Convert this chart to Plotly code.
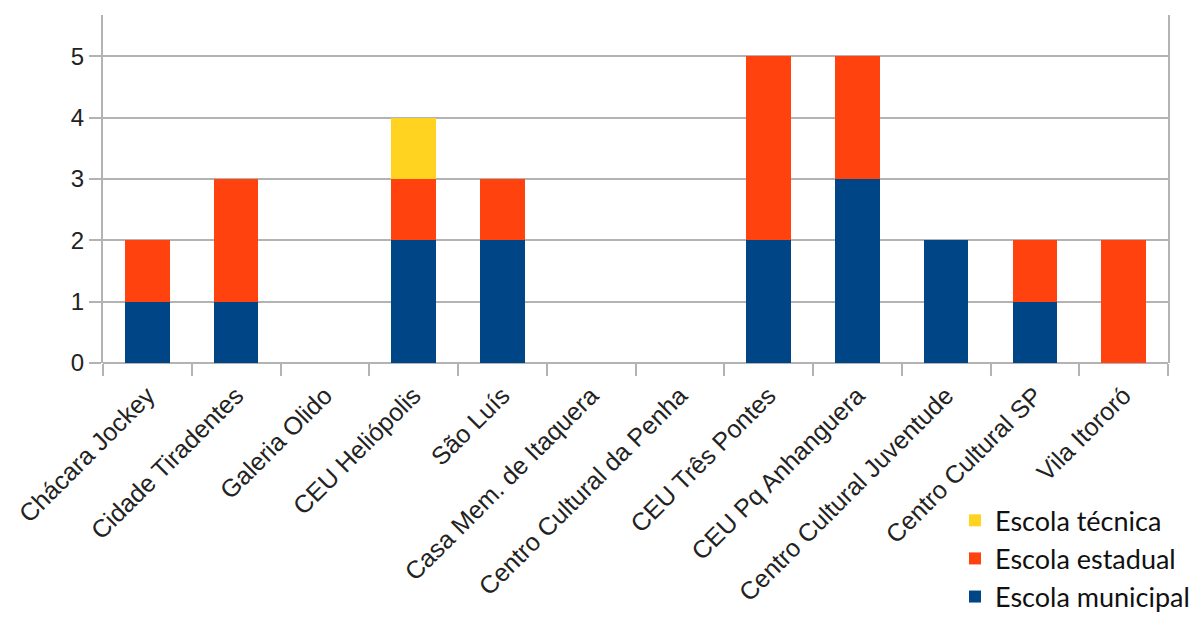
import plotly.graph_objects as go

categories = ["Chácara Jockey", "Cidade Tiradentes", "Galeria Olido", "CEU Heliópolis",
              "São Luís", "Casa Mem. de Itaquera", "Centro Cultural da Penha",
              "CEU Três Pontes", "CEU Pq Anhanguera", "Centro Cultural Juventude",
              "Centro Cultural SP", "Vila Itororó"]
municipal = [1, 1, 0, 2, 2, 0, 0, 2, 3, 2, 1, 0]
estadual = [1, 2, 0, 1, 1, 0, 0, 3, 2, 0, 1, 2]
tecnica = [0, 0, 0, 1, 0, 0, 0, 0, 0, 0, 0, 0]
series_names = ["Escola municipal", "Escola estadual", "Escola técnica"]
colors = ["#004586", "#ff420e", "#ffd320"]

fig = go.Figure()
for i, (name, vals, col) in enumerate(zip(series_names, [municipal, estadual, tecnica], colors)):
    fig.add_trace(go.Bar(x=categories, y=vals, name=name, marker_color=col,
                         marker_line_width=0, legendgroup=f"g{i}"))

fig.update_layout(
    barmode="stack",
    bargap=0.5,
    width=1203, height=617,
    margin=dict(l=103, r=35, t=15, b=254, autoexpand=False),
    plot_bgcolor="white", paper_bgcolor="white",
    font=dict(family="Liberation Sans, Arial, sans-serif", size=22, color="#222222"),
    showlegend=True,
    legend=dict(traceorder="reversed", tracegroupgap=12,
                x=0.80, xanchor="left", y=-0.383, yanchor="top",
                font=dict(family="Lato, Open Sans, sans-serif", size=27, color="#111111"),
                bgcolor="rgba(0,0,0,0)"),
)
fig.update_xaxes(type="category", tickangle=-45, showgrid=False, automargin=False,
                 ticks="outside", tickson="boundaries", ticklen=12, tickcolor="#b3b3b3",
                 tickwidth=2, showline=False, ticklabelstandoff=12,
                 tickfont=dict(size=25))
fig.update_yaxes(range=[0, 5.67], dtick=1, showgrid=True, gridcolor="#b3b3b3", gridwidth=2,
                 zeroline=True, zerolinecolor="#b3b3b3", zerolinewidth=2, automargin=False,
                 showline=True, linecolor="#b3b3b3", linewidth=2, mirror=True,
                 ticks="outside", ticklen=12, tickcolor="#b3b3b3", tickwidth=2,
                 tickfont=dict(size=24))

fig.write_html("out.html")
